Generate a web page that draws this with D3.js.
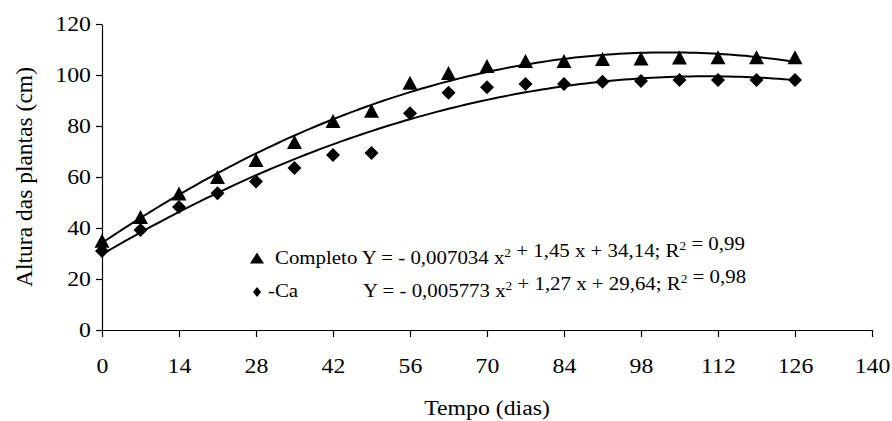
<!DOCTYPE html>
<html>
<head>
<meta charset="utf-8">
<script src="https://cdn.jsdelivr.net/npm/d3@7"></script>
<style>
  html, body { margin: 0; padding: 0; background: #fff; }
  svg { display: block; }
  text { font-family: "Liberation Serif", "Times New Roman", serif; fill: #000; }
</style>
</head>
<body>
<svg id="chart" width="892" height="421"></svg>
<script>
// ---- data ----
const days = [0, 7, 14, 21, 28, 35, 42, 49, 56, 63, 70, 77, 84, 91, 98, 105, 112, 119, 126];
const completo = [35, 44.3, 53.5, 60, 66.7, 73.7, 82, 86, 97, 100.8, 103.5, 105.5, 105.5, 106.3, 106.5, 106.9, 107, 107, 107];
const semCa = [31, 39.2, 48.2, 53.6, 58.2, 63.5, 68.6, 69.4, 85, 93, 95.2, 96.5, 96.5, 97.4, 97.6, 98, 98, 98, 98];
// regression coefficients [a, b, c] for Y = a x^2 + b x + c (from the legend)
const coefCompleto = [-0.007034, 1.45, 34.14];
const coefSemCa = [-0.005773, 1.27, 29.64];
const xTickValues = [0, 14, 28, 42, 56, 70, 84, 98, 112, 126, 140];
const yTickValues = [0, 20, 40, 60, 80, 100, 120];
const xTitle = "Tempo (dias)";
const yTitle = "Altura das plantas (cm)";

// ---- layout ----
const SX = 1.16; // horizontal stretch of text in the reference
const svg = d3.select("#chart");
const x = d3.scaleLinear().domain([0, 140]).range([102, 872]);
const y = d3.scaleLinear().domain([0, 120]).range([330, 24]);

// axes
const yAxis = d3.axisLeft(y).tickValues(yTickValues).tickSize(6).tickSizeOuter(0);
const gy = svg.append("g").attr("transform", `translate(${x(0)},0)`).call(yAxis);
gy.selectAll("text")
  .attr("font-size", 20.5)
  .attr("x", -11 / SX)
  .attr("dy", "0.34em")
  .attr("transform", `scale(${SX},1)`);

const xAxis = d3.axisBottom(x).tickValues(xTickValues).tickSize(7).tickSizeOuter(0);
const gx = svg.append("g").attr("transform", `translate(0,${y(0)})`).call(xAxis);
gx.selectAll("text")
  .attr("font-size", 20.5)
  .attr("y", 43)
  .attr("dy", 0)
  .attr("transform", `scale(${SX},1)`);

svg.selectAll(".domain, .tick line").attr("stroke", "#000").attr("stroke-width", 1.2);
svg.selectAll(".tick text").attr("font-family", "Liberation Serif").attr("fill", "#000");

// titles
svg.append("text")
  .attr("transform", `translate(${(x(0) + x(140)) / 2},415) scale(${SX},1)`)
  .attr("text-anchor", "middle")
  .attr("font-size", 20.5)
  .text(xTitle);
svg.append("text")
  .attr("transform", `translate(32,${(y(0) + y(120)) / 2}) rotate(-90)`)
  .attr("text-anchor", "middle")
  .attr("font-size", 23.5)
  .text(yTitle);

// trend curves from the legend equations
function curvePts(coef) {
  return d3.range(days[0], days[days.length - 1] + 0.5, 1).map(d => [d, coef[0] * d * d + coef[1] * d + coef[2]]);
}
const line = d3.line().x(d => x(d[0])).y(d => y(d[1]));
[coefCompleto, coefSemCa].forEach(c => {
  svg.append("path")
    .attr("d", line(curvePts(c)))
    .attr("fill", "none")
    .attr("stroke", "#000")
    .attr("stroke-width", 2);
});

// marker shapes (bounding-box centred)
const triangle = (w, h) => ({
  draw(ctx) {
    ctx.moveTo(0, -h / 2);
    ctx.lineTo(w / 2, h / 2);
    ctx.lineTo(-w / 2, h / 2);
    ctx.closePath();
  }
});
const diamond = (w, h) => ({
  draw(ctx) {
    ctx.moveTo(0, -h / 2);
    ctx.lineTo(w / 2, 0);
    ctx.lineTo(0, h / 2);
    ctx.lineTo(-w / 2, 0);
    ctx.closePath();
  }
});

svg.append("g").selectAll("path")
  .data(days.map((d, i) => [d, completo[i]]))
  .join("path")
  .attr("transform", d => `translate(${x(d[0])},${y(d[1])})`)
  .attr("d", d3.symbol().type(triangle(15, 14))())
  .attr("fill", "#000");

svg.append("g").selectAll("path")
  .data(days.map((d, i) => [d, semCa[i]]))
  .join("path")
  .attr("transform", d => `translate(${x(d[0])},${y(d[1])})`)
  .attr("d", d3.symbol().type(diamond(14, 14))())
  .attr("fill", "#000");

// legend
const leg = svg.append("g");
leg.append("path")
  .attr("transform", "translate(257,258)")
  .attr("d", d3.symbol().type(triangle(14, 11))())
  .attr("fill", "#000");
leg.append("path")
  .attr("transform", "translate(257,292)")
  .attr("d", d3.symbol().type(diamond(8, 10))())
  .attr("fill", "#000");

function eqText(g, tx, ty, parts) {
  const t = g.append("text")
    .attr("transform", `translate(${tx},${ty}) scale(${SX},1)`)
    .attr("font-size", 18);
  parts.forEach(p => {
    if (p.sup) {
      t.append("tspan").attr("font-size", 11.5).attr("dy", -7).text(p.t);
      t.append("tspan").attr("dy", 7).text("");
    } else {
      t.append("tspan").text(p.t);
    }
  });
  return t;
}
eqText(leg, 275, 264, [
  {t: "Completo Y = - 0,007034 x"}, {t: "2", sup: true},
  {t: " + 1,45 x + 34,14; R"}, {t: "2", sup: true}, {t: " = 0,99"}
]);
eqText(leg, 268, 297, [{t: "-Ca"}]);
eqText(leg, 363, 297, [
  {t: "Y = - 0,005773 x"}, {t: "2", sup: true},
  {t: " + 1,27 x + 29,64; R"}, {t: "2", sup: true}, {t: " = 0,98"}
]);
</script>
</body>
</html>
